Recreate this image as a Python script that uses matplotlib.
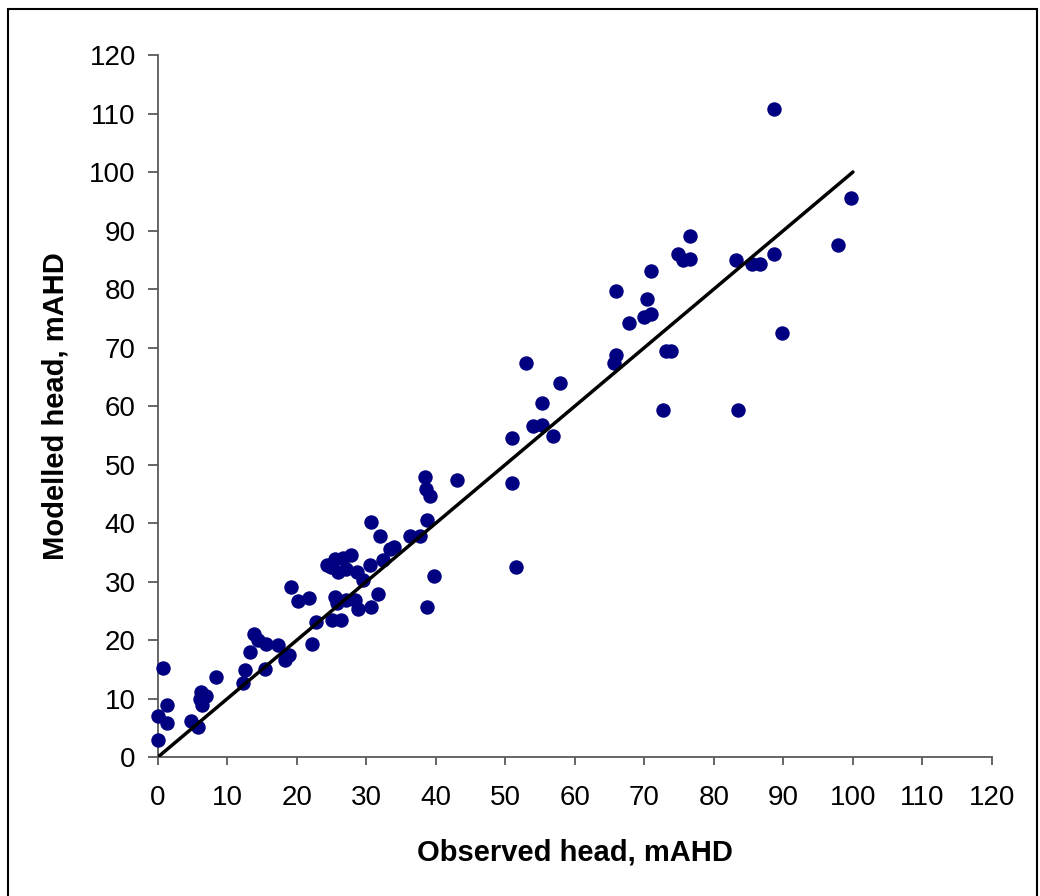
import matplotlib
matplotlib.use("Agg")
import matplotlib.pyplot as plt
from matplotlib.patches import Rectangle

# observed vs modelled heads (mAHD)
observed = [
    0.7, 0.0, 0.0, 1.3, 1.3, 4.8, 5.7, 6.2, 6.0, 6.9, 6.4, 8.3,
    12.2, 12.5, 13.2, 13.8, 14.4, 15.5, 15.4, 17.3, 18.3, 18.9,
    19.2, 20.2, 21.8, 22.1, 22.7,
    24.3, 24.9, 25.5, 25.9, 26.6, 27.8, 27.0, 25.5, 25.7, 27.0,
    25.0, 26.3, 28.3, 28.8, 28.7, 29.5, 30.5, 30.6, 30.7, 31.7,
    32.0, 32.4, 33.4, 34.0,
    36.3, 37.7, 38.7, 38.7, 39.7, 38.4, 38.6, 39.1, 43.0,
    50.9, 50.9, 51.5, 53.0, 57.8, 55.3, 54.0, 55.2, 56.9,
    65.6, 65.9, 65.9, 67.8, 70.0, 70.9, 70.4, 71.0, 72.6, 73.1,
    73.8, 74.8, 75.6, 76.5, 76.5, 83.1, 83.5, 85.5, 86.6, 88.6,
    88.6, 89.8, 97.8, 99.7,
]
modelled = [
    15.3, 2.9, 7.0, 8.9, 5.9, 6.2, 5.1, 11.2, 10.0, 10.4, 8.9, 13.7,
    12.7, 14.9, 18.0, 21.1, 20.0, 19.4, 15.0, 19.1, 16.6, 17.4,
    29.1, 26.7, 27.1, 19.4, 23.0,
    32.8, 32.5, 33.9, 31.7, 34.0, 34.5, 32.1, 27.4, 26.3, 26.8,
    23.4, 23.4, 26.8, 25.3, 31.7, 30.3, 32.8, 40.1, 25.6, 27.9,
    37.8, 33.6, 35.5, 35.9,
    37.8, 37.8, 40.5, 25.7, 30.9, 47.8, 45.8, 44.6, 47.3,
    54.5, 46.9, 32.4, 67.4, 64.0, 60.6, 56.5, 56.8, 54.9,
    67.4, 68.7, 79.6, 74.2, 75.3, 75.7, 78.3, 83.0, 59.4, 69.4,
    69.4, 86.0, 84.9, 85.2, 89.1, 84.9, 59.4, 84.2, 84.2, 86.0,
    110.8, 72.4, 87.6, 95.6,
]
line_x = [0, 100]
line_y = [0, 100]
ticks = list(range(0, 121, 10))

plt.rcParams["font.family"] = ["Liberation Sans", "DejaVu Sans"]
axis_grey = "#595959"

fig = plt.figure(figsize=(10.4, 8.96), dpi=100)
ax = fig.add_axes([0.1519, 0.1551, 0.8019, 0.7835])

ax.plot(line_x, line_y, color="black", lw=2.5, solid_capstyle="round", zorder=3)
# markers on x=0 are drawn whole, not cut by the axes edge
ax.plot(observed, modelled, "o", color="#000080", ms=10.4, mew=0, zorder=2,
        clip_on=False)

ax.set_xlim(0, 120)
ax.set_ylim(0, 120)
ax.set_xticks(ticks)
ax.set_yticks(ticks)
for side in ["top", "right"]:
    ax.spines[side].set_visible(False)
for side in ["left", "bottom"]:
    ax.spines[side].set_color(axis_grey)
    ax.spines[side].set_linewidth(1.3)
    ax.spines[side].set_zorder(1)
ax.tick_params(axis="y", length=7, width=1.3, color=axis_grey, labelsize=20, pad=9)
ax.tick_params(axis="x", length=6, width=1.3, color=axis_grey, labelsize=20, pad=14)

ax.set_xlabel("Observed head, mAHD", fontsize=21, fontweight="bold", labelpad=20)
ax.set_ylabel("Modelled head, mAHD", fontsize=21, fontweight="bold", labelpad=14)

# thin frame around the whole chart
fig.patches.append(Rectangle((8 / 1040, -0.01), 1029 / 1040, 1 - 9 / 896 + 0.01,
                             transform=fig.transFigure, fill=False,
                             edgecolor="black", lw=1.5))

fig.savefig("out.png", dpi=100)
